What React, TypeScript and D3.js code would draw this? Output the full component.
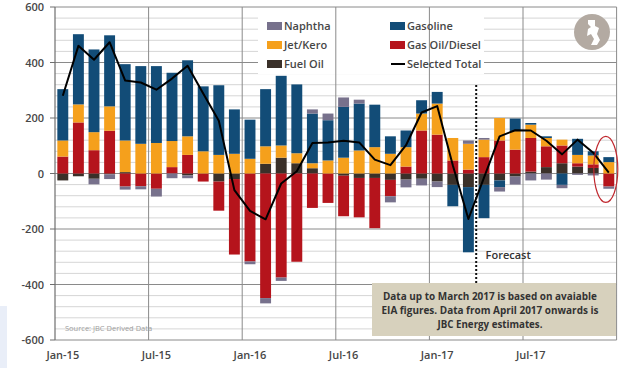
import React, { useEffect, useRef } from 'react';
import * as d3 from 'd3';

// monthly categories, Jan-15 .. Dec-17
const months = [
  'Jan-15', 'Feb-15', 'Mar-15', 'Apr-15', 'May-15', 'Jun-15', 'Jul-15', 'Aug-15', 'Sep-15', 'Oct-15', 'Nov-15', 'Dec-15',
  'Jan-16', 'Feb-16', 'Mar-16', 'Apr-16', 'May-16', 'Jun-16', 'Jul-16', 'Aug-16', 'Sep-16', 'Oct-16', 'Nov-16', 'Dec-16',
  'Jan-17', 'Feb-17', 'Mar-17', 'Apr-17', 'May-17', 'Jun-17', 'Jul-17', 'Aug-17', 'Sep-17', 'Oct-17', 'Nov-17', 'Dec-17'
];
const tickMonths = ['Jan-15', 'Jul-15', 'Jan-16', 'Jul-16', 'Jan-17', 'Jul-17'];
const yTicks = [-600, -400, -200, 0, 200, 400, 600];

const fuelOil = [-25, -10, -19, -3, 5, 0, 0, 0, -7, 0, -29, -20, 0, 35, 57, 37, 19, 0, -8, -16, -16, -23, -22, -19, -29, -41, -49, -41, -25, -11, 7, 23, 37, 25, 20, 0];
const gasOil = [61, 184, 84, 154, -47, -46, -55, 23, 67, -29, -105, -272, -317, -449, -375, -318, -124, -106, -146, -142, -181, -59, 25, 155, 140, 47, 14, 59, 119, 86, 121, 75, 64, 12, 13, -47];
const jetKero = [58, 65, 65, 88, 114, 107, 110, 94, 67, 80, 67, 71, 53, 63, 44, 36, 18, 47, 57, 83, 95, 71, 70, 61, 112, 81, 93, 63, 81, 67, 48, 30, 21, 30, 32, 41];
const gasoline = [185, 253, 298, 256, 275, 280, 277, 246, 274, 234, 251, 160, 141, 206, 251, 248, 179, 145, 183, 169, 153, 63, 60, 48, 42, -77, -235, -120, -24, 45, 6, 6, -41, 58, 15, 18];
const naphtha = [0, 0, -20, -17, -11, -11, -28, -17, -10, 0, 0, 0, -10, -19, -12, 0, 15, 24, 34, 14, 0, -22, -28, -24, -20, 0, 12, 6, -16, -29, -25, -22, -12, -5, -7, -8];
const selectedTotal = [280, 460, 410, 473, 335, 328, 302, 342, 388, 288, 190, -60, -135, -165, -36, 8, 110, 112, 118, 112, 50, 30, 102, 220, 243, 30, -164, -15, 134, 156, 155, 118, 69, 122, 75, 3];

const seriesKeys = ['fuel', 'gasoil', 'jet', 'gasoline', 'naphtha'];
const colors: Record<string, string> = {
  fuel: '#3a3029',
  gasoil: '#b5141c',
  jet: '#f5a01c',
  gasoline: '#124c77',
  naphtha: '#77718c'
};

const W = 624;
const H = 368;

const App: React.FC = () => {
  const svgRef = useRef<SVGSVGElement>(null);

  useEffect(() => {
    if (!svgRef.current) return;
    const svg = d3.select(svgRef.current);
    svg.selectAll('*').remove();

    const left = 55, right = 616.6, top = 7, bottom = 340;
    const font = "'Open Sans', 'DejaVu Sans', sans-serif";
    const textCol = '#474747';

    const rows = months.map((m, i) => ({
      month: m,
      fuel: fuelOil[i],
      gasoil: gasOil[i],
      jet: jetKero[i],
      gasoline: gasoline[i],
      naphtha: naphtha[i],
      total: selectedTotal[i]
    }));

    const x = d3.scaleBand<string>()
      .domain(months)
      .range([left, right])
      .paddingInner(0.3)
      .paddingOuter(0.15);
    const y = d3.scaleLinear().domain([-600, 600]).range([bottom, top]);

    svg.append('rect').attr('width', W).attr('height', H).attr('fill', '#fff');
    // stray light panel on left edge of the screenshot
    svg.append('rect').attr('x', 0).attr('y', 306).attr('width', 7).attr('height', 62).attr('fill', '#e9eef8');

    // minor gridlines
    const minor = d3.range(-560, 600, 40).filter(v => v % 200 !== 0);
    svg.append('g').selectAll('line').data(minor).join('line')
      .attr('x1', left).attr('x2', right)
      .attr('y1', d => y(d)).attr('y2', d => y(d))
      .attr('stroke', '#d6d6d6').attr('stroke-width', 1);
    // major gridlines
    svg.append('g').selectAll('line').data(yTicks).join('line')
      .attr('x1', left).attr('x2', right)
      .attr('y1', d => y(d)).attr('y2', d => y(d))
      .attr('stroke', '#8a8a8a').attr('stroke-width', 1);

    // legend background
    svg.append('rect').attr('x', 258).attr('y', 12).attr('width', 226).attr('height', 62).attr('fill', '#fff');

    // vertical gridlines on half-year boundaries
    const step = x.step();
    const vlines = tickMonths.slice(1).map(m => (x(m) as number) - step * 0.3 / 2);
    svg.append('g').selectAll('line').data([...vlines, right]).join('line')
      .attr('x1', d => d).attr('x2', d => d)
      .attr('y1', top).attr('y2', bottom)
      .attr('stroke', '#8a8a8a').attr('stroke-width', 1);

    // stacked bars
    const stack = d3.stack<any>().keys(seriesKeys).offset(d3.stackOffsetDiverging);
    const stacked = stack(rows);
    svg.append('g').selectAll('g').data(stacked).join('g')
      .attr('fill', d => colors[d.key])
      .selectAll('rect').data(d => d).join('rect')
      .attr('x', d => x(d.data.month) as number)
      .attr('width', x.bandwidth())
      .attr('y', d => y(Math.max(d[0], d[1])))
      .attr('height', d => Math.abs(y(d[0]) - y(d[1])));

    // axis line + ticks
    svg.append('line').attr('x1', left).attr('x2', left).attr('y1', top).attr('y2', bottom)
      .attr('stroke', '#6e6e6e').attr('stroke-width', 1.2);
    svg.append('g').selectAll('line').data(yTicks).join('line')
      .attr('x1', left - 5).attr('x2', left)
      .attr('y1', d => y(d)).attr('y2', d => y(d))
      .attr('stroke', '#6e6e6e');
    svg.append('g').selectAll('text').data(yTicks).join('text')
      .attr('x', 44).attr('y', d => y(d) + 4)
      .attr('text-anchor', 'end')
      .attr('font-family', font).attr('font-size', 11).attr('font-weight', 600)
      .attr('fill', textCol)
      .text(d => d);
    svg.append('g').selectAll('text').data(tickMonths).join('text')
      .attr('x', d => (x(d) as number) + x.bandwidth() / 2)
      .attr('y', 359)
      .attr('text-anchor', 'middle')
      .attr('font-family', font).attr('font-size', 11).attr('font-weight', 600)
      .attr('fill', textCol)
      .text(d => d);

    // forecast divider
    const fx = (x('Apr-17') as number) - step * 0.3 / 2;
    svg.append('line').attr('x1', fx).attr('x2', fx).attr('y1', 85).attr('y2', 283)
      .attr('stroke', '#111').attr('stroke-width', 2).attr('stroke-dasharray', '2,2');
    svg.append('text').attr('x', fx + 32).attr('y', 259).attr('text-anchor', 'middle')
      .attr('font-family', font).attr('font-size', 11).attr('font-weight', 600).attr('fill', '#333')
      .text('Forecast');

    // selected total line
    const line = d3.line<any>()
      .x(d => (x(d.month) as number) + x.bandwidth() / 2)
      .y(d => y(d.total));
    svg.append('path').datum(rows)
      .attr('fill', 'none').attr('stroke', '#000').attr('stroke-width', 2)
      .attr('stroke-linejoin', 'round')
      .attr('d', line);

    // highlight ellipse on last month
    const last = months[months.length - 1];
    svg.append('ellipse')
      .attr('cx', (x(last) as number) + x.bandwidth() / 2 - 3)
      .attr('cy', y(15))
      .attr('rx', 12).attr('ry', 33)
      .attr('fill', 'none').attr('stroke', '#c0282f').attr('stroke-width', 1.2);

    // legend
    const legendItems = [
      { key: 'naphtha', label: 'Naphtha', col: 0, row: 0 },
      { key: 'gasoline', label: 'Gasoline', col: 1, row: 0 },
      { key: 'jet', label: 'Jet/Kero', col: 0, row: 1 },
      { key: 'gasoil', label: 'Gas Oil/Diesel', col: 1, row: 1 },
      { key: 'fuel', label: 'Fuel Oil', col: 0, row: 2 },
      { key: 'total', label: 'Selected Total', col: 1, row: 2 }
    ];
    const lg = svg.append('g');
    legendItems.forEach(it => {
      const lx = it.col === 0 ? 267 : 390;
      const ly = 26 + it.row * 19;
      if (it.key === 'total') {
        lg.append('line').attr('x1', lx + 1).attr('x2', lx + 15).attr('y1', ly).attr('y2', ly)
          .attr('stroke', '#000').attr('stroke-width', 2);
      } else {
        lg.append('rect').attr('x', lx).attr('y', ly - 4).attr('width', 15).attr('height', 8)
          .attr('fill', colors[it.key]);
      }
      lg.append('text').attr('x', lx + 17).attr('y', ly + 4)
        .attr('font-family', font).attr('font-size', 11).attr('font-weight', 600)
        .attr('fill', textCol)
        .text(it.label);
    });

    // logo
    const logo = svg.append('g').attr('transform', 'translate(592,32)');
    logo.append('circle').attr('r', 18).attr('fill', '#b3aaa2');
    logo.append('path')
      .attr('d', 'M-4,-12 L3,-12 L3,-6 L7,-4 L5,2 L8,8 L5,13 L-1,13 L2,7 L-1,2 L-5,4 L-4,-3 L-1,-5 L-4,-8 Z')
      .attr('fill', '#fff');

    // source
    svg.append('text').attr('x', 65).attr('y', 331)
      .attr('font-family', font).attr('font-size', 7.5).attr('fill', '#a0a0a0')
      .text('Source: JBC Derived Data');

    // note box
    svg.append('rect').attr('x', 372).attr('y', 283).attr('width', 244).attr('height', 53)
      .attr('fill', '#d7d1bd');
    const note = [
      { t: 'Data up to March 2017 is based on avaiable', y: 300, w: 214 },
      { t: 'EIA figures. Data from April 2017 onwards is', y: 314, w: 217 },
      { t: 'JBC Energy estimates.', y: 328, w: 105 }
    ];
    svg.append('g').selectAll('text').data(note).join('text')
      .attr('x', 490).attr('y', d => d.y).attr('text-anchor', 'middle')
      .attr('font-family', font).attr('font-size', 11).attr('font-weight', 700).attr('fill', '#333')
      .attr('textLength', d => d.w).attr('lengthAdjust', 'spacingAndGlyphs')
      .text(d => d.t);
  }, []);

  return (
    <svg ref={svgRef} width={W} height={H} style={{ position: 'absolute', left: 0, top: 0 }} />
  );
};

export default App;
